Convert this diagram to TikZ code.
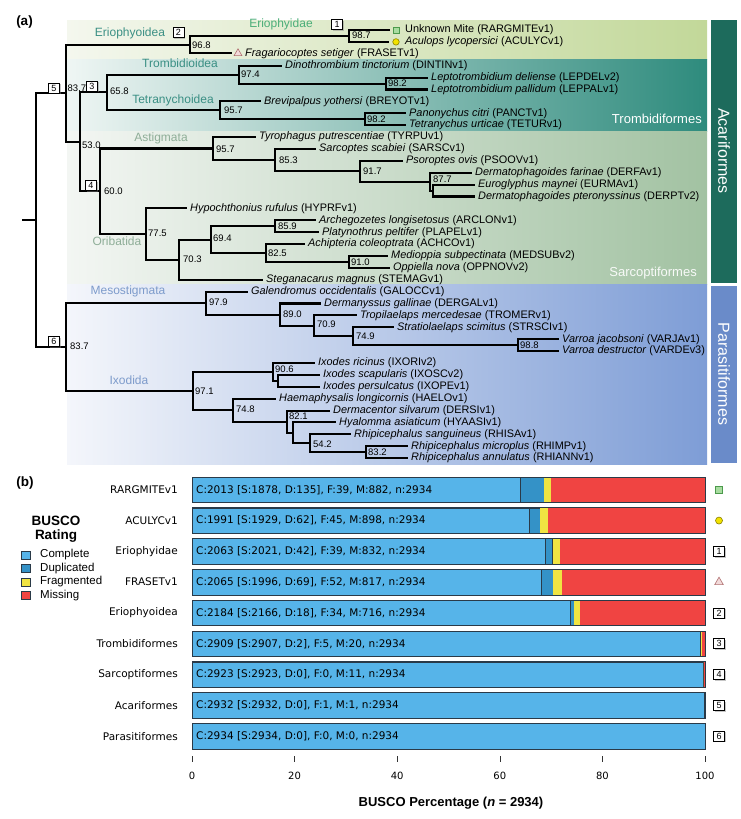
\documentclass[tikz,border=0pt]{standalone}
\usepackage{fontspec}
\setmainfont{Liberation Sans}
\newfontfamily\dejavu{DejaVu Sans}
\usetikzlibrary{shadows,shapes.geometric}
\definecolor{erioR}{HTML}{C2D899}
\definecolor{erioL}{HTML}{F4F7EE}
\definecolor{trombR}{HTML}{2E8B7D}
\definecolor{trombL}{HTML}{EFF6F4}
\definecolor{sarcoR}{HTML}{A2C2A2}
\definecolor{sarcoL}{HTML}{F3F6F3}
\definecolor{paraR}{HTML}{7E9DD6}
\definecolor{paraL}{HTML}{F4F6FB}
\definecolor{acariC}{HTML}{1D6B5C}
\definecolor{paraC}{HTML}{6A8BC9}
\definecolor{tealT}{HTML}{3A8F84}
\definecolor{greenT}{HTML}{4BAE78}
\definecolor{sageT}{HTML}{8FAE98}
\definecolor{blueT}{HTML}{7D9BCB}
\definecolor{bComp}{HTML}{56B4E9}
\definecolor{bDup}{HTML}{3492C7}
\definecolor{bFrag}{HTML}{F0E442}
\definecolor{bMiss}{HTML}{F04442}
\definecolor{segline}{HTML}{2A3A48}
\definecolor{mkSq}{HTML}{A8DCA0}
\definecolor{mkSqB}{HTML}{4C9A4C}
\definecolor{mkCi}{HTML}{F2E200}
\definecolor{mkCiB}{HTML}{8A8000}
\definecolor{mkTr}{HTML}{F2DADA}
\definecolor{mkTrB}{HTML}{B07070}
\newcommand\lf[5]{\node[leaf] (#1) at (#2,#3) {\textit{#4} (#5)};}
\newcommand\buscobar[7]{%
  \pgfmathsetmacro\xa{192+513*(#4/2934)}%
  \pgfmathsetmacro\xb{192+513*((#4+#5)/2934)}%
  \pgfmathsetmacro\xc{192+513*((#4+#5+#6)/2934)}%
  \fill[bMiss] (192,#2-12.75) rectangle (705,#2+12.75);
  \filldraw[fill=bComp,draw=segline,line width=0.5pt] (192,#2-12.75) rectangle (\xa,#2+12.75);
  \filldraw[fill=bDup,draw=segline,line width=0.5pt] (\xa,#2-12.75) rectangle (\xb,#2+12.75);
  \fill[bFrag] (\xb,#2-12.75) rectangle (\xc,#2+12.75);
  \draw[segline,line width=0.8pt] (192,#2-12.75) rectangle (705,#2+12.75);
  \node[barlab] (bl#1) at (178,#2) {#3};
  \node[bartxt] (bt#1) at (196,#2) {#7};
}
\begin{document}
\begin{tikzpicture}[x=1pt,y=-1pt,
  br/.style={line width=2.1pt},
  leaf/.style={anchor=west,inner sep=0pt,font=\fontsize{10.9}{12}\selectfont},
  bs/.style={anchor=west,inner sep=0pt,font=\fontsize{9.5}{10}\selectfont},
  clade/.style={inner sep=0pt,font=\fontsize{12}{13}\selectfont},
  numbox/.style={draw=black,line width=0.7pt,fill=white,minimum width=11pt,minimum height=10pt,inner sep=0pt,font=\fontsize{9}{9}\selectfont,drop shadow={shadow xshift=1.2pt,shadow yshift=-1.2pt,opacity=0.45}},
  sqmk/.style={draw=mkSqB,fill=mkSq,minimum size=6pt,inner sep=0pt,line width=0.6pt},
  cimk/.style={circle,draw=mkCiB,fill=mkCi,minimum size=6.5pt,inner sep=0pt,line width=0.6pt},
  trmk/.style={regular polygon,regular polygon sides=3,draw=mkTrB,fill=mkTr,minimum size=9pt,inner sep=0pt,line width=0.6pt},
  barlab/.style={anchor=east,inner sep=0pt,font=\dejavu\fontsize{10.5}{11}\selectfont},
  bartxt/.style={anchor=west,inner sep=0pt,font=\dejavu\fontsize{10.5}{11}\selectfont},
  legsq/.style={draw=segline,line width=0.5pt,minimum width=9pt,minimum height=8pt,inner sep=0pt},
  legtx/.style={anchor=west,inner sep=0pt,font=\fontsize{11.5}{12}\selectfont},
  tick/.style={line width=0.6pt,black!80},
  ticklab/.style={inner sep=0pt,font=\dejavu\fontsize{10}{11}\selectfont},
  panel/.style={inner sep=0pt,font=\bfseries\fontsize{13.5}{14}\selectfont},
]
\useasboundingbox (0,0) rectangle (740,819);
\fill[white] (0,0) rectangle (740,819);
% ---------- backgrounds ----------
\shade[left color=erioL,right color=erioR] (67,20) rectangle (707,59.7);
\shade[left color=trombL,right color=trombR] (67,59.7) rectangle (707,131);
\shade[left color=sarcoL,right color=sarcoR] (67,131) rectangle (707,284.5);
\shade[left color=paraL,right color=paraR] (67,284.5) rectangle (707,464);
\fill[acariC] (711,20) rectangle (737,283);
\fill[paraC] (711,286) rectangle (737,463);
\node[rotate=-90,text=white,inner sep=0pt,font=\fontsize{16}{16}\selectfont] (acl) at (724,151) {Acariformes};
\node[rotate=-90,text=white,inner sep=0pt,font=\fontsize{16}{16}\selectfont] (pal) at (724,374) {Parasitiformes};
\node[anchor=east,text=white,inner sep=0pt,font=\fontsize{13}{13}\selectfont] (trl) at (702,119) {Trombidiformes};
\node[anchor=east,text=white!92!sarcoR,inner sep=0pt,font=\fontsize{13}{13}\selectfont] (sal) at (697,273) {Sarcoptiformes};
\node[panel] (pa) at (24.5,22.5) {(a)};
% ---------- internal nodes ----------
\coordinate (rootstub) at (22,220.2);
\coordinate (root) at (36,220.2);
\coordinate (acari) at (66,93.4);
\coordinate (erioid) at (190,44.9);
\coordinate (eriodae) at (349,36.0);
\coordinate (arest) at (80,141.9);
\coordinate (trombi) at (107,92.4);
\coordinate (trombid) at (239,74.6);
\coordinate (lepto) at (386,83.6);
\coordinate (tetra) at (220,110.2);
\coordinate (panct) at (365,119.2);
\coordinate (sarco) at (100,191.3);
\coordinate (astig) at (213,148.5);
\coordinate (n853) at (275,160.0);
\coordinate (n917) at (360,171.2);
\coordinate (n877) at (430,181.6);
\coordinate (neur) at (433,190.6);
\coordinate (orib) at (146,234.0);
\coordinate (n703) at (179,259.6);
\coordinate (n694) at (211,239.6);
\coordinate (n859) at (275,226.2);
\coordinate (n825) at (266,253.0);
\coordinate (n910) at (349,261.9);
\coordinate (parasit) at (66,347.0);
\coordinate (meso) at (206,303.1);
\coordinate (n890) at (280,314.7);
\coordinate (n709) at (314,325.8);
\coordinate (n749) at (353,336.2);
\coordinate (varroa) at (518,345.2);
\coordinate (ixod) at (193,391.0);
\coordinate (ixodes) at (273,371.9);
\coordinate (nixo) at (278,380.8);
\coordinate (n748) at (233,410.2);
\coordinate (n821) at (287,421.7);
\coordinate (nhya) at (293,432.8);
\coordinate (n542) at (310,443.2);
\coordinate (n832) at (366,452.2);
% ---------- leaves ----------
\node[sqmk] (m0) at (396,30.0) {};
\node[cimk] (m1) at (396,41.9) {};
\node[trmk] (m2) at (238,53.3) {};
\node[leaf] (l0) at (405,30.0) {Unknown Mite (RARGMITEv1)};
\lf{l1}{405}{41.9}{Aculops lycopersici}{ACULYCv1}
\lf{l2}{245}{53.8}{Fragariocoptes setiger}{FRASETv1}
\lf{l3}{285}{65.7}{Dinothrombium tinctorium}{DINTINv1}
\lf{l4}{431}{77.6}{Leptotrombidium deliense}{LEPDELv2}
\lf{l5}{431}{89.5}{Leptotrombidium pallidum}{LEPPALv1}
\lf{l6}{264}{101.3}{Brevipalpus yothersi}{BREYOTv1}
\lf{l7}{409}{113.2}{Panonychus citri}{PANCTv1}
\lf{l8}{409}{125.1}{Tetranychus urticae}{TETURv1}
\lf{l9}{259}{137.0}{Tyrophagus putrescentiae}{TYRPUv1}
\lf{l10}{319}{148.9}{Sarcoptes scabiei}{SARSCv1}
\lf{l11}{406}{160.8}{Psoroptes ovis}{PSOOVv1}
\lf{l12}{475}{172.7}{Dermatophagoides farinae}{DERFAv1}
\lf{l13}{478}{184.6}{Euroglyphus maynei}{EURMAv1}
\lf{l14}{478}{196.5}{Dermatophagoides pteronyssinus}{DERPTv2}
\lf{l15}{190}{208.4}{Hypochthonius rufulus}{HYPRFv1}
\lf{l16}{319}{220.3}{Archegozetes longisetosus}{ARCLONv1}
\lf{l17}{322}{232.2}{Platynothrus peltifer}{PLAPELv1}
\lf{l18}{308}{244.0}{Achipteria coleoptrata}{ACHCOv1}
\lf{l19}{391}{255.9}{Medioppia subpectinata}{MEDSUBv2}
\lf{l20}{393}{267.8}{Oppiella nova}{OPPNOVv2}
\lf{l21}{266}{279.7}{Steganacarus magnus}{STEMAGv1}
\lf{l22}{251}{291.6}{Galendromus occidentalis}{GALOCCv1}
\lf{l23}{324}{303.5}{Dermanyssus gallinae}{DERGALv1}
\lf{l24}{360}{315.4}{Tropilaelaps mercedesae}{TROMERv1}
\lf{l25}{397}{327.3}{Stratiolaelaps scimitus}{STRSCIv1}
\lf{l26}{562}{339.2}{Varroa jacobsoni}{VARJAv1}
\lf{l27}{562}{351.1}{Varroa destructor}{VARDEv3}
\lf{l28}{318}{363.0}{Ixodes ricinus}{IXORIv2}
\lf{l29}{323}{374.9}{Ixodes scapularis}{IXOSCv2}
\lf{l30}{323}{386.8}{Ixodes persulcatus}{IXOPEv1}
\lf{l31}{279}{398.7}{Haemaphysalis longicornis}{HAELOv1}
\lf{l32}{333}{410.6}{Dermacentor silvarum}{DERSIv1}
\lf{l33}{339}{422.4}{Hyalomma asiaticum}{HYAASIv1}
\lf{l34}{354}{434.3}{Rhipicephalus sanguineus}{RHISAv1}
\lf{l35}{411}{446.2}{Rhipicephalus microplus}{RHIMPv1}
\lf{l36}{411}{458.1}{Rhipicephalus annulatus}{RHIANNv1}
% ---------- branches ----------
\draw[br] (rootstub) -- (root);
\foreach \p/\c in {root/acari,root/parasit,acari/erioid,acari/arest,erioid/eriodae,
  arest/trombi,arest/sarco,trombi/trombid,trombi/tetra,trombid/lepto,tetra/panct,
  sarco/astig,sarco/orib,astig/n853,n853/n917,n917/n877,n877/neur,orib/n703,
  n703/n694,n694/n859,n694/n825,n825/n910,parasit/meso,parasit/ixod,meso/n890,
  n890/n709,n709/n749,n749/varroa,ixod/ixodes,ixod/n748,ixodes/nixo,n748/n821,
  n821/nhya,nhya/n542,n542/n832}
  \draw[br] (\p) |- (\c);
\foreach \p/\c in {eriodae/m0,eriodae/m1,erioid/m2}
  \draw[br] (\p) |- ([xshift=-3pt]\c.west);
\foreach \p/\c in {trombid/l3,lepto/l4,lepto/l5,tetra/l6,panct/l7,panct/l8,
  astig/l9,n853/l10,n917/l11,n877/l12,neur/l13,neur/l14,orib/l15,n859/l16,n859/l17,
  n825/l18,n910/l19,n910/l20,n703/l21,meso/l22,n890/l23,n709/l24,n749/l25,
  varroa/l26,varroa/l27,ixodes/l28,nixo/l29,nixo/l30,n748/l31,n821/l32,nhya/l33,
  n542/l34,n832/l35,n832/l36}
  \draw[br] (\p) |- ([xshift=-3.5pt]\c.west);
% ---------- bootstrap values ----------
\node[bs] (s1) at (67.5,88) {83.7};
\node[bs] (s2) at (192,45) {96.8};
\node[bs] (s3) at (352,35.5) {98.7};
\node[bs] (s4) at (110,91) {65.8};
\node[bs] (s5) at (82,145) {53.0};
\node[bs] (s6) at (241,74.5) {97.4};
\node[bs] (s7) at (388,83.3) {98.2};
\node[bs] (s8) at (224,110) {95.7};
\node[bs] (s9) at (367,119) {98.2};
\node[bs] (s10) at (104,191) {60.0};
\node[bs] (s11) at (216,149) {95.7};
\node[bs] (s12) at (279,160) {85.3};
\node[bs] (s13) at (363,171) {91.7};
\node[bs] (s14) at (433,178.8) {87.7};
\node[bs] (s15) at (148,233) {77.5};
\node[bs] (s16) at (183,259) {70.3};
\node[bs] (s17) at (213,238) {69.4};
\node[bs] (s18) at (278,226) {85.9};
\node[bs] (s19) at (268,253) {82.5};
\node[bs] (s20) at (351,262) {91.0};
\node[bs] (s21) at (70,346) {83.7};
\node[bs] (s22) at (209,302) {97.9};
\node[bs] (s23) at (283,314) {89.0};
\node[bs] (s24) at (317,324) {70.9};
\node[bs] (s25) at (356,336) {74.9};
\node[bs] (s26) at (520,345) {98.8};
\node[bs] (s27) at (275,369) {90.6};
\node[bs] (s28) at (195,391) {97.1};
\node[bs] (s29) at (236,409) {74.8};
\node[bs] (s30) at (289,416.5) {82.1};
\node[bs] (s31) at (313,444) {54.2};
\node[bs] (s32) at (368,452) {83.2};
% ---------- clade labels ----------
\node[clade,text=tealT] (c1) at (130,33) {Eriophyoidea};
\node[clade,text=greenT] (c2) at (281,24) {Eriophyidae};
\node[clade,text=tealT] (c3) at (180,63) {Trombidioidea};
\node[clade,text=tealT] (c4) at (173,100) {Tetranychoidea};
\node[clade,text=sageT] (c5) at (161,138) {Astigmata};
\node[clade,text=sageT] (c6) at (117,241) {Oribatida};
\node[clade,text=blueT] (c7) at (128,291) {Mesostigmata};
\node[clade,text=blueT] (c8) at (129,380) {Ixodida};
% ---------- numbered boxes ----------
\node[numbox] (k1) at (337,24.5) {1};
\node[numbox] (k2) at (178.5,32.5) {2};
\node[numbox] (k3) at (92,86) {3};
\node[numbox] (k4) at (91,185.5) {4};
\node[numbox] (k5) at (54,88) {5};
\node[numbox] (k6) at (54,341.5) {6};
% ---------- panel (b) ----------
\node[panel] (pb) at (25,483) {(b)};
\node[inner sep=0pt,font=\bfseries\fontsize{13.5}{14}\selectfont] (lgt1) at (56,521) {BUSCO};
\node[inner sep=0pt,font=\bfseries\fontsize{13.5}{14}\selectfont] (lgt2) at (56,536) {Rating};
\node[legsq,fill=bComp] (q1) at (25.5,555) {};
\node[legsq,fill=bDup] (q2) at (25.5,568.5) {};
\node[legsq,fill=bFrag] (q3) at (25.5,582) {};
\node[legsq,fill=bMiss] (q4) at (25.5,595.5) {};
\node[legtx] (t1) at (40,555) {Complete};
\node[legtx] (t2) at (40,568.5) {Duplicated};
\node[legtx] (t3) at (40,582) {Fragmented};
\node[legtx] (t4) at (40,595.5) {Missing};
\buscobar{1}{489.75}{RARGMITEv1}{1878}{135}{39}{C:2013 [S:1878, D:135], F:39, M:882, n:2934}
\buscobar{2}{520.55}{ACULYCv1}{1929}{62}{45}{C:1991 [S:1929, D:62], F:45, M:898, n:2934}
\buscobar{3}{551.35}{Eriophyidae}{2021}{42}{39}{C:2063 [S:2021, D:42], F:39, M:832, n:2934}
\buscobar{4}{582.15}{FRASETv1}{1996}{69}{52}{C:2065 [S:1996, D:69], F:52, M:817, n:2934}
\buscobar{5}{612.95}{Eriophyoidea}{2166}{18}{34}{C:2184 [S:2166, D:18], F:34, M:716, n:2934}
\buscobar{6}{643.75}{Trombidiformes}{2907}{2}{5}{C:2909 [S:2907, D:2], F:5, M:20, n:2934}
\buscobar{7}{674.55}{Sarcoptiformes}{2923}{0}{0}{C:2923 [S:2923, D:0], F:0, M:11, n:2934}
\buscobar{8}{705.35}{Acariformes}{2932}{0}{1}{C:2932 [S:2932, D:0], F:1, M:1, n:2934}
\buscobar{9}{736.15}{Parasitiformes}{2934}{0}{0}{C:2934 [S:2934, D:0], F:0, M:0, n:2934}
% markers on the right of the bars
\node[sqmk,minimum size=7pt] (r1) at (719,489.75) {};
\node[cimk,minimum size=7pt] (r2) at (719,520.55) {};
\node[numbox] (r3) at (719,551.35) {1};
\node[trmk,minimum size=10pt] (r4) at (719,582.15) {};
\node[numbox] (r5) at (719,612.95) {2};
\node[numbox] (r6) at (719,643.75) {3};
\node[numbox] (r7) at (719,674.55) {4};
\node[numbox] (r8) at (719,705.35) {5};
\node[numbox] (r9) at (719,736.15) {6};
% axis
\foreach \i/\v in {0/0,1/20,2/40,3/60,4/80,5/100}{
  \draw[tick] (192+102.6*\i,756) -- (192+102.6*\i,762);
  \node[ticklab] (tk\i) at (192+102.6*\i,776) {\v};
}
\node[inner sep=0pt,font=\bfseries\fontsize{13}{14}\selectfont] (axt) at (451,803) {BUSCO Percentage (\textit{n} = 2934)};
\end{tikzpicture}
\end{document}
